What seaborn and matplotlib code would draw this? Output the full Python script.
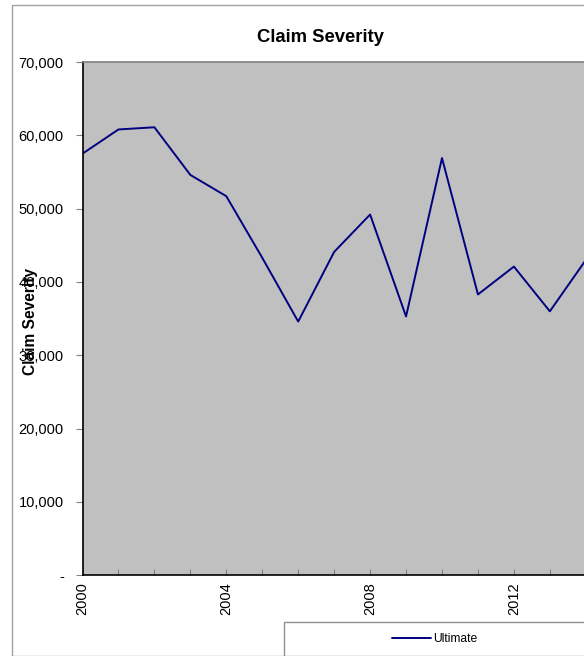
import matplotlib
matplotlib.use("Agg")
import matplotlib.pyplot as plt
import matplotlib.patches as mpatches
import matplotlib.ticker as mticker
import seaborn as sns
import pandas as pd

years = list(range(2000, 2015))
ultimate = [57500, 60800, 61100, 54600, 51700, 43300, 34600, 44100, 49200,
            35300, 56900, 38300, 42100, 36000, 43000]
series_name = "Ultimate"
title = "Claim Severity"
y_label = "Claim Severity"
y_ticks = [0, 10000, 20000, 30000, 40000, 50000, 60000, 70000]
x_label_years = [2000, 2004, 2008, 2012]

df = pd.DataFrame({"Year": years, "Value": ultimate, "Series": series_name})

sns.set_theme(style="white")
plt.rcParams["font.family"] = ["Liberation Sans", "DejaVu Sans"]
plt.rcParams["text.color"] = "black"
plt.rcParams["xtick.labelcolor"] = "black"
plt.rcParams["ytick.labelcolor"] = "black"

W, H = 584, 656
fig = plt.figure(figsize=(W / 100, H / 100), dpi=100)

# outer chart border
fig.patches.append(mpatches.Rectangle((12 / W, 0), 1.0, 1 - 5 / H, transform=fig.transFigure,
                                      fill=False, edgecolor="#a0a0a0", linewidth=1.0))

left, right, top, bottom = 82.5, 82.5 + 15 * 35.95, 62, 575.3
ax = fig.add_axes([left / W, 1 - bottom / H, (right - left) / W, (bottom - top) / H])
ax.set_facecolor("#c0c0c0")

sns.lineplot(data=df, x="Year", y="Value", hue="Series", palette=["#000080"],
             linewidth=1.4, ax=ax, legend=False)

ax.set_xlim(2000, 2015)
ax.set_ylim(0, 70000)
ax.set_yticks(y_ticks)
ax.set_yticklabels(["-" if v == 0 else f"{v:,}" for v in y_ticks], fontsize=10.5)
ax.set_xticks(x_label_years)
ax.set_xticklabels([str(y) for y in x_label_years], rotation=90, fontsize=10.5)
ax.xaxis.set_minor_locator(mticker.MultipleLocator(1))
ax.tick_params(axis="y", which="major", direction="out", length=5, width=0.8,
               color="#808080", left=True, pad=8.5, labelcolor="black")
ax.tick_params(axis="x", which="both", direction="in", length=4, width=0.8,
               color="#808080", bottom=True, pad=5, labelcolor="black")
ax.set_xlabel("")
ax.set_ylabel("")

for s in ["left", "bottom"]:
    ax.spines[s].set_color("black")
    ax.spines[s].set_linewidth(1.2)
ax.spines["top"].set_color("#808080")
ax.spines["top"].set_linewidth(1.2)
ax.spines["right"].set_visible(False)

fig.text(320 / W, 1 - 37 / H, title, ha="center", va="center", fontsize=13.3,
         fontweight="bold", color="black")
fig.text(31 / W, 1 - 321 / H, y_label, ha="center", va="center", rotation=90,
         fontsize=11.2, fontweight="bold", color="black")

# legend box
lx0, ly0, lx1, ly1 = 284, 622, 590, 656
fig.patches.append(mpatches.Rectangle((lx0 / W, 1 - ly1 / H), (lx1 - lx0) / W, (ly1 - ly0) / H,
                                      transform=fig.transFigure, fill=True, facecolor="white",
                                      edgecolor="#909090", linewidth=1.0))
handle = plt.Line2D([], [], color="#000080", linewidth=1.4)
leg = fig.legend([handle], [series_name], loc="center", bbox_to_anchor=(435 / W, 1 - 639 / H),
                 frameon=False, fontsize=8.7, handlelength=3.2, handletextpad=0.2)
for t in leg.get_texts():
    t.set_color("black")

fig.savefig("out.png", dpi=100)
